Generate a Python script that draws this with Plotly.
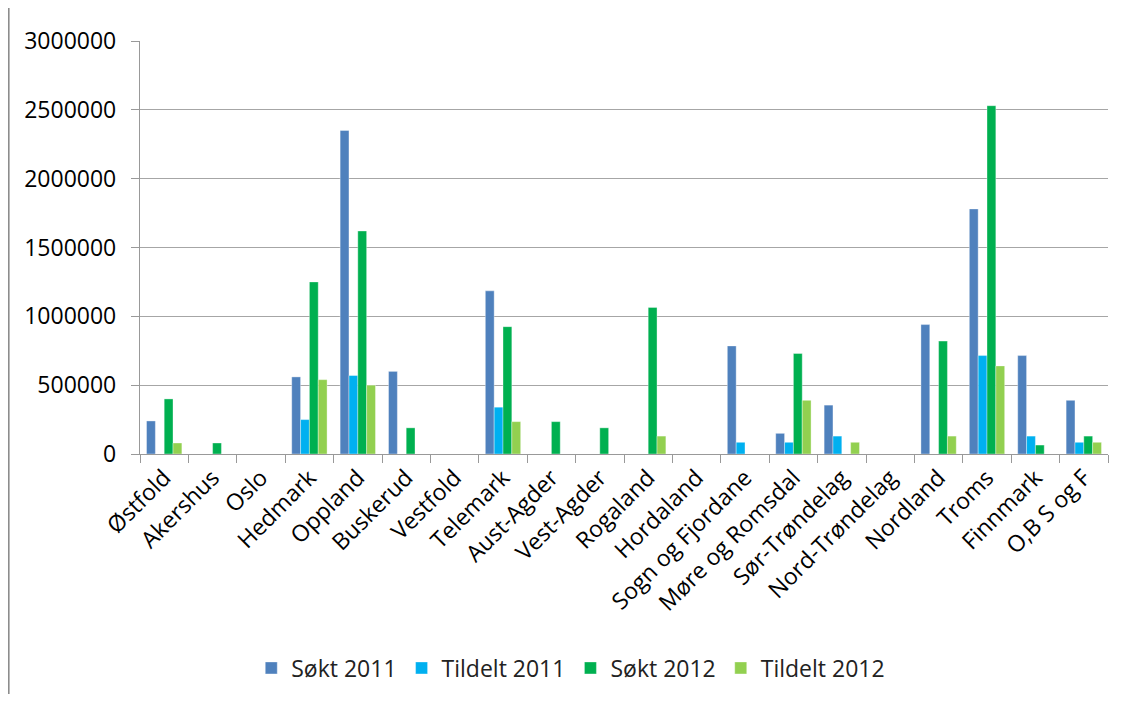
import plotly.graph_objects as go

categories = ["Østfold", "Akershus", "Oslo", "Hedmark", "Oppland", "Buskerud", "Vestfold",
              "Telemark", "Aust-Agder", "Vest-Agder", "Rogaland", "Hordaland",
              "Sogn og Fjordane", "Møre og Romsdal", "Sør-Trøndelag", "Nord-Trøndelag",
              "Nordland", "Troms", "Finnmark", "O,B S og F"]

sokt_2011 = [240000, 0, 0, 560000, 2350000, 600000, 0, 1185000, 0, 0, 0, 0,
             785000, 150000, 355000, 0, 940000, 1780000, 715000, 390000]
tildelt_2011 = [0, 0, 0, 250000, 570000, 0, 0, 340000, 0, 0, 0, 0,
                85000, 85000, 130000, 0, 0, 715000, 130000, 85000]
sokt_2012 = [400000, 80000, 0, 1250000, 1620000, 190000, 0, 925000, 235000, 190000, 1065000, 0,
             0, 730000, 0, 0, 820000, 2530000, 65000, 130000]
tildelt_2012 = [80000, 0, 0, 540000, 500000, 0, 0, 235000, 0, 0, 130000, 0,
                0, 390000, 85000, 0, 130000, 640000, 0, 85000]

y_ticks = [0, 500000, 1000000, 1500000, 2000000, 2500000, 3000000]

series = [
    ("Søkt 2011", sokt_2011, "#4F81BD"),
    ("Tildelt 2011", tildelt_2011, "#00B0F0"),
    ("Søkt 2012", sokt_2012, "#00B050"),
    ("Tildelt 2012", tildelt_2012, "#92D050"),
]

font_family = "Open Sans, Liberation Sans, Arial, sans-serif"

fig = go.Figure()
for name, vals, color in series:
    fig.add_trace(go.Bar(
        x=categories, y=vals, name=name,
        marker=dict(color=color, line=dict(color="rgba(255,255,255,0.6)", width=0.6)),
    ))

W, H = 1111, 686
L, T, R, B = 132, 33, 11, 240
plot_w = W - L - R
plot_h = H - T - B

fig.update_layout(
    width=W, height=H,
    margin=dict(l=L, r=R, t=T, b=B, autoexpand=False),
    paper_bgcolor="white", plot_bgcolor="white",
    barmode="group", bargap=0.27, bargroupgap=0,
    font=dict(family=font_family, size=22, color="black"),
    showlegend=True,
    legend=dict(orientation="h", x=0.445, xanchor="center", y=(446 - 660) / plot_h, yanchor="middle",
                font=dict(size=23, color="#222222"), traceorder="normal"),
    xaxis=dict(
        type="category", tickangle=-45, showgrid=False,
        showline=True, linecolor="#999999", linewidth=1.3,
        ticks="outside", tickson="boundaries", ticklen=8, tickcolor="#999999",
        tickfont=dict(size=23), automargin=False,
    ),
    yaxis=dict(
        range=[0, 3000000], tickvals=y_ticks,
        ticktext=[str(v) for v in y_ticks],
        showgrid=True, gridcolor="#a6a6a6", gridwidth=1.3,
        showline=True, linecolor="#999999", linewidth=1.3,
        ticks="outside", ticklen=8, tickcolor="#999999",
        tickfont=dict(size=23), zeroline=False, ticklabelstandoff=10, automargin=False,
    ),
    shapes=[dict(type="line", xref="paper", yref="paper",
                 x0=(0.8 - L) / plot_w, x1=(0.8 - L) / plot_w,
                 y0=-B / plot_h, y1=(plot_h + T) / plot_h,
                 line=dict(color="#8c8c8c", width=1.6))],
)

fig.write_html("out.html")
